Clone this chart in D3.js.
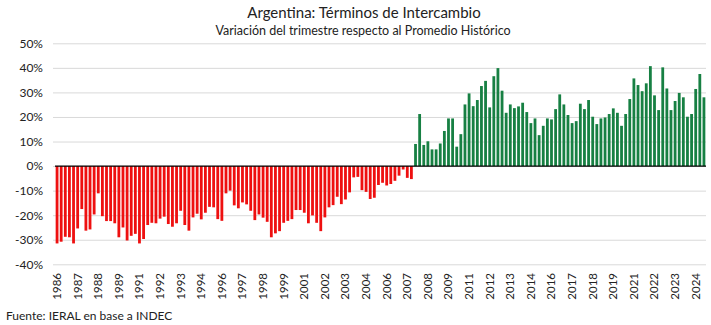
<!DOCTYPE html>
<html>
<head>
<meta charset="utf-8">
<script src="https://cdn.jsdelivr.net/npm/d3@7"></script>
<style>
  body { margin: 0; background: #fff; }
  text { font-family: Lato, "Open Sans", sans-serif; fill: #222; }
</style>
</head>
<body>
<div class="myBox"></div>
<script>

var width = 711;
var height = 325;

// trimestres 1986 T1 .. 2025 T2
var quarters = [];
for (var yr = 1986; yr <= 2025; yr++) {
  for (var q = 1; q <= 4; q++) {
    if (yr == 2025 && q > 2) break;
    quarters.push(yr + " T" + q);
  }
}

// variacion respecto al promedio historico (%)
var values = [
  -31.5, -30.8, -28.8, -29.0, -31.5, -25.4, -17.5, -26.3, -25.8, -19.7,
  -11.1, -20.4, -22.4, -22.4, -23.3, -29.0, -25.0, -30.3, -28.4, -27.6,
  -31.5, -29.7, -24.0, -23.1, -23.3, -21.4, -20.6, -23.6, -24.7, -23.3,
  -18.2, -24.0, -26.3, -20.9, -19.4, -21.7, -19.0, -16.6, -16.8, -21.6,
  -22.3, -11.1, -10.0, -16.0, -17.2, -14.8, -15.6, -18.2, -22.0, -19.7,
  -21.0, -22.7, -29.0, -27.4, -26.5, -23.1, -22.3, -21.6, -17.9, -17.9,
  -19.0, -23.3, -20.1, -23.1, -26.5, -20.9, -16.8, -15.9, -12.5, -15.5,
  -13.6, -10.7, -4.6, -4.4, -9.8, -10.5, -13.4, -12.9, -7.7, -6.8,
  -7.9, -7.3, -6.0, -3.9, -1.4, -4.8, -5.3,
  9.0, 21.2, 8.6, 10.1, 6.8, 6.8, 9.2, 14.3, 19.4, 19.4,
  7.9, 13.0, 25.1, 29.6, 24.4, 26.9, 32.6, 34.7, 23.9, 36.6,
  39.9, 30.7, 21.7, 25.1, 23.6, 24.3, 25.8, 22.0, 17.5, 19.4,
  12.6, 16.4, 19.4, 19.0, 23.2, 29.2, 25.1, 20.8, 17.5, 18.3,
  25.4, 23.2, 26.9, 20.1, 17.1, 19.4, 19.8, 21.2, 23.5, 21.7,
  16.4, 21.2, 27.3, 35.7, 33.0, 30.5, 33.7, 40.7, 28.8, 22.8,
  40.2, 31.6, 22.8, 26.5, 29.8, 28.0, 20.1, 21.2, 31.4, 37.5,
  28.0
];

var yTicks = [-40, -30, -20, -10, 0, 10, 20, 30, 40, 50];

var xTickLabels = ["1986", "1987", "1988", "1989", "1991", "1992", "1993", "1994",
  "1996", "1997", "1998", "1999", "2001", "2002", "2003", "2004", "2006", "2007",
  "2008", "2009", "2011", "2012", "2013", "2014", "2016", "2017", "2018", "2019",
  "2021", "2022", "2023", "2024"];

var svg = d3.select(".myBox")
  .append("svg")
  .attr("width", width)
  .attr("height", height);

var x = d3.scaleBand()
  .domain(quarters)
  .range([55, 706])
  .paddingInner(0.32)
  .paddingOuter(0.16);

var y = d3.scaleLinear()
  .domain([-40, 50])
  .range([264.3, 43.3]);

// titulos
svg.append("text")
  .attr("x", 364).attr("y", 18)
  .attr("text-anchor", "middle")
  .style("font-size", "15px")
  .text("Argentina: Términos de Intercambio");

svg.append("text")
  .attr("x", 363).attr("y", 35)
  .attr("text-anchor", "middle")
  .style("font-size", "12.5px")
  .text("Variación del trimestre respecto al Promedio Histórico");

// grilla + eje y
var yAxis = d3.axisLeft(y)
  .tickValues(yTicks)
  .tickSize(-(706 - 53))
  .tickFormat(function(d) { return d + "%"; });

var gy = svg.append("g")
  .attr("transform", "translate(53,0)")
  .call(yAxis);
gy.select(".domain").remove();
gy.selectAll(".tick line").attr("stroke", "#d9d9d9").attr("stroke-width", 1);
gy.selectAll(".tick text")
  .attr("x", -10)
  .style("font-size", "12px")
  .style("font-family", "Lato, sans-serif")
  .attr("fill", "#222");

// barras
svg.append("g").selectAll("rect")
  .data(values)
  .enter().append("rect")
    .attr("x", function(d, i) { return x(quarters[i]); })
    .attr("width", x.bandwidth())
    .attr("y", function(d) { return d >= 0 ? y(d) : y(0); })
    .attr("height", function(d) { return Math.abs(y(d) - y(0)); })
    .attr("fill", function(d) { return d >= 0 ? "#178043" : "#ee1010"; });

// linea del cero
svg.append("line")
  .attr("x1", 55).attr("x2", 706)
  .attr("y1", y(0)).attr("y2", y(0))
  .attr("stroke", "#000")
  .attr("stroke-width", 1.2);

// etiquetas eje x (cada 5 trimestres)
var gx = svg.append("g");
gx.selectAll("text")
  .data(xTickLabels)
  .enter().append("text")
    .attr("transform", function(d, i) {
      var cx = x(quarters[i * 5]) + x.bandwidth() / 2;
      return "translate(" + (cx + 4) + ",273) rotate(-90)";
    })
    .attr("text-anchor", "end")
    .style("font-size", "11.5px")
    .text(function(d) { return d; });

svg.append("text")
  .attr("x", 6).attr("y", 320)
  .style("font-size", "12px")
  .text("Fuente: IERAL en base a INDEC");

</script>
</body>
</html>
